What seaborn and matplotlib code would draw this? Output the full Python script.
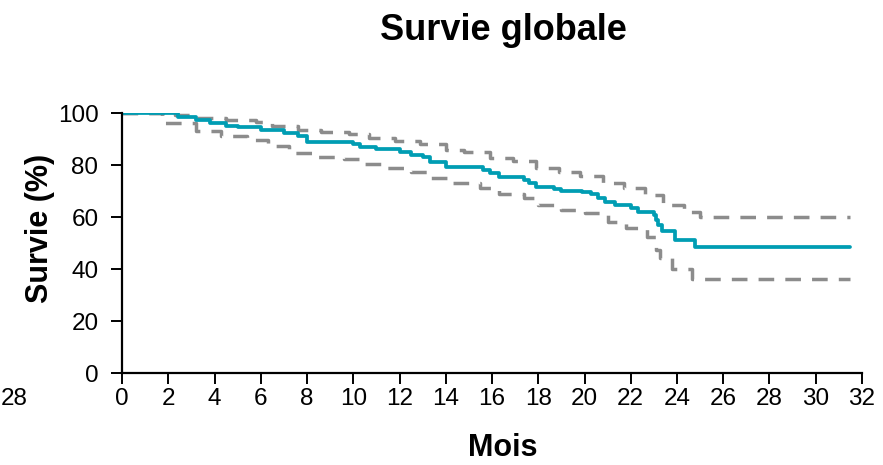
import matplotlib
matplotlib.use("Agg")
import matplotlib.pyplot as plt
import seaborn as sns
import pandas as pd

# Courbe de survie globale (Kaplan-Meier) + IC 95 %
mois = [0, 2.4, 3.2, 3.8, 4.5, 5.0, 6.0, 7.0, 7.6, 8.0, 10.0, 10.3, 11.0, 12.0,
        12.5, 13.0, 13.3, 14.0, 15.6, 15.9, 16.3, 17.4, 17.6, 17.9, 18.7, 19.0,
        19.9, 20.3, 20.6, 20.9, 21.3, 22.0, 22.3, 23.0, 23.1, 23.2, 23.35, 23.9,
        24.8, 31.5]
survie = [100, 98.6, 97.3, 96.0, 95.0, 94.5, 93.5, 92.5, 91.0, 89.0, 88.0, 87.0,
          86.0, 85.0, 84.0, 83.0, 81.3, 79.3, 78.0, 76.8, 75.5, 74.2, 73.0, 71.7,
          70.8, 70.0, 69.5, 69.0, 67.2, 65.9, 64.6, 63.5, 62.0, 60.8, 58.8, 56.9,
          54.5, 51.2, 48.3, 48.3]

mois_sup = [0, 2.3, 3.2, 4.5, 5.8, 6.5, 7.6, 8.6, 9.8, 10.7, 11.8, 12.9, 14.0,
            14.8, 15.9, 16.9, 17.9, 18.9, 19.8, 20.8, 21.7, 22.6, 23.4, 24.3,
            25.0, 31.5]
ic_sup = [100, 99.2, 98.0, 97.3, 96.7, 95.1, 93.5, 92.8, 91.9, 90.3, 89.2, 88.0,
          85.8, 84.9, 82.9, 81.7, 79.0, 77.4, 75.9, 73.2, 71.0, 68.5, 64.6, 62.0,
          60.1, 60.1]

mois_inf = [0, 1.75, 3.2, 4.3, 5.4, 6.3, 7.2, 8.2, 9.6, 10.5, 11.4, 12.5, 13.3,
            14.2, 15.5, 16.3, 17.4, 18.0, 19.0, 20.0, 21.0, 21.8, 22.7, 23.1,
            23.25, 23.8, 24.65, 31.5]
ic_inf = [100, 96.0, 93.0, 91.0, 89.6, 87.2, 84.8, 83.0, 82.2, 80.4, 79.0, 77.2,
          74.9, 73.0, 71.2, 68.7, 67.2, 64.6, 62.7, 61.4, 58.2, 55.6, 52.4, 47.3,
          44.1, 40.2, 36.0, 36.0]

df = pd.DataFrame({"mois": mois, "survie": survie})
df_sup = pd.DataFrame({"mois": mois_sup, "ic": ic_sup})
df_inf = pd.DataFrame({"mois": mois_inf, "ic": ic_inf})

sns.set_style("ticks")
plt.rcParams["font.family"] = ["Liberation Sans", "DejaVu Sans"]
plt.rcParams["text.color"] = "black"
plt.rcParams["axes.labelcolor"] = "black"

fig = plt.figure(figsize=(8.83, 4.65), dpi=100)
ax = fig.add_axes([0.1382, 0.1978, 0.838, 0.559])

gris = "#8c8c8c"
sarcelle = "#009db3"
sns.lineplot(data=df_sup, x="mois", y="ic", ax=ax, color=gris, lw=2.5,
             drawstyle="steps-post", linestyle=(0, (4.5, 3.2)), estimator=None)
sns.lineplot(data=df_inf, x="mois", y="ic", ax=ax, color=gris, lw=2.5,
             drawstyle="steps-post", linestyle=(0, (4.5, 3.2)), estimator=None)
sns.lineplot(data=df, x="mois", y="survie", ax=ax, color=sarcelle, lw=2.7,
             drawstyle="steps-post", estimator=None)

ax.set_xlim(0, 32)
ax.set_ylim(0, 100)
ax.set_xticks(range(0, 33, 2))
ax.set_yticks(range(0, 101, 20))
ax.tick_params(axis="both", direction="out", length=8, width=1.4,
               labelsize=17.5, colors="black")
ax.tick_params(axis="x", pad=3)
ax.tick_params(axis="y", pad=9)
for s in ["left", "bottom"]:
    ax.spines[s].set_linewidth(1.6)
    ax.spines[s].set_color("black")
sns.despine(ax=ax)

ax.set_xlabel("Mois", fontsize=22, fontweight="bold")
ax.set_ylabel("Survie (%)", fontsize=22, fontweight="bold")
ax.xaxis.label.set_verticalalignment("center")
ax.yaxis.label.set_verticalalignment("center")
ax.xaxis.set_label_coords(0.515, -0.29)
ax.yaxis.set_label_coords(-0.111, 0.558)

fig.text(0.57, 0.935, "Survie globale", ha="center", va="center",
         fontsize=26, fontweight="bold")
# fragment du graphique voisin, coupé à gauche
fig.text(0.001, 0.143, "28", ha="left", va="center", fontsize=17.5)

fig.savefig("out.png", dpi=100)
